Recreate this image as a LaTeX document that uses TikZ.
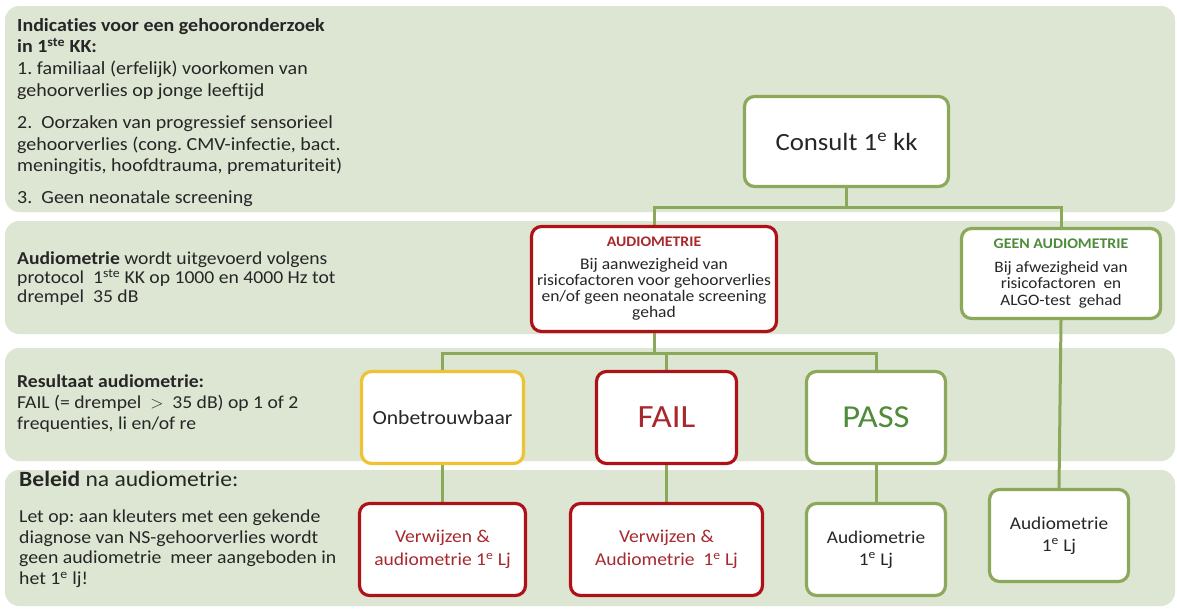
\documentclass[tikz,border=0pt]{standalone}
\usepackage{fontspec}
\setmainfont{Carlito}[FakeStretch=1.08, Ligatures=NoCommon]
\usetikzlibrary{calc}
\frenchspacing
\definecolor{band}{HTML}{DDE6D3}
\definecolor{gbord}{HTML}{8CA95B}
\definecolor{rbord}{HTML}{AE1218}
\definecolor{ybord}{HTML}{EEC232}
\definecolor{rtext}{HTML}{A8282D}
\definecolor{gtext}{HTML}{4E8B3A}
\definecolor{txt}{HTML}{262626}
\pgfdeclarelayer{back}
\pgfdeclarelayer{mid}
\pgfsetlayers{back,mid,main}
\begin{document}
\begin{tikzpicture}[x=1pt,y=-1pt,
  bandbox/.style={fill=band, rounded corners=14pt},
  box/.style={draw, fill=white, rounded corners=10pt, line width=3.2pt, align=center, inner sep=0pt, text=txt},
  gbox/.style={box, draw=gbord},
  rbox/.style={box, draw=rbord, text=rtext},
  ybox/.style={box, draw=ybord},
  conn/.style={draw=gbord, line width=3pt},
  lefttext/.style={anchor=north west, align=left, inner sep=0pt, text=txt}
]
\useasboundingbox (0,0) rectangle (1177,608);
\begin{pgfonlayer}{back}
\fill[white] (0,0) rectangle (1177,608);
\fill[bandbox] (5,6) rectangle (1175,212);
\fill[bandbox] (5,221) rectangle (1175,334);
\fill[bandbox] (5,348) rectangle (1175,461);
\fill[bandbox] (5,470) rectangle (1175,606);
\end{pgfonlayer}

% left texts
\node[lefttext, font=\fontsize{18.5}{21.8}\selectfont] (t1) at (17,18) {%
\textbf{Indicaties voor een gehooronderzoek}\\
\textbf{in 1\textsuperscript{ste} KK:}\\
1. familiaal (erfelijk) voorkomen van\\
gehoorverlies op jonge leeftijd\\[10pt]
2.\ \ Oorzaken van progressief sensorieel\\
gehoorverlies (cong. CMV-infectie, bact.\\
meningitis, hoofdtrauma, prematuriteit)\\[10pt]
3.\ \ Geen neonatale screening};

\node[lefttext, font=\fontsize{18.2}{19}\selectfont] (t2) at (17,252) {%
\textbf{Audiometrie} wordt uitgevoerd volgens\\
protocol\ \ 1\textsuperscript{ste} KK op 1000 en 4000\ Hz tot\\
drempel\ \ 35 dB};

\node[lefttext, font=\fontsize{18.2}{21}\selectfont] (t3) at (17,375) {%
\textbf{Resultaat audiometrie:}\\
FAIL (= drempel\ \ $>$\ \ 35 dB) op 1 of 2\\
frequenties, li en/of re};

\node[lefttext, font=\fontsize{21.8}{26}\selectfont] (t4) at (19,471) {%
\textbf{Beleid} na audiometrie:};

\node[lefttext, font=\fontsize{18.3}{20.5}\selectfont] (t5) at (19,510) {%
Let op: aan kleuters met een gekende\\
diagnose van NS-gehoorverlies wordt\\
geen audiometrie\ \ meer aangeboden in\\
het 1\textsuperscript{e} lj!};

% boxes
\node[gbox, minimum width=204pt, minimum height=90pt, font=\fontsize{24.8}{28}\selectfont] (consult) at (846.5,141.5) {Consult 1\textsuperscript{e} kk};

\node[rbox, minimum width=245pt, minimum height=105pt, text=txt, font=\fontsize{16.2}{16}\selectfont] (audio) at (654,279) {{\fontsize{14.6}{16}\selectfont\textcolor{rtext}{\textbf{AUDIOMETRIE}}}\\[7pt]
Bij aanwezigheid van\\
risicofactoren voor gehoorverlies\\
en/of geen\ neonatale screening\\
gehad};

\node[gbox, minimum width=199pt, minimum height=90pt, font=\fontsize{15.9}{16.5}\selectfont] (geen) at (1061,273.5) {{\fontsize{14.7}{16}\selectfont\textcolor{gtext}{\textbf{GEEN AUDIOMETRIE}}}\\[7pt]
Bij afwezigheid van\\
risicofactoren\ \ en\\
ALGO-test\ \ gehad};

\node[ybox, minimum width=162pt, minimum height=92pt, font=\fontsize{20}{22}\selectfont] (onb) at (442.5,417.5) {Onbetrouwbaar};
\node[rbox, minimum width=140pt, minimum height=92pt, font=\fontsize{32.4}{36}\selectfont] (fail) at (666.5,417.5) {FAIL};
\node[gbox, minimum width=139pt, minimum height=92pt, text=gtext, font=\fontsize{32}{36}\selectfont] (pass) at (876,417.5) {PASS};

\node[rbox, minimum width=166pt, minimum height=92pt, font=\fontsize{18.1}{23}\selectfont] (verw1) at (442.5,549.5) {Verwijzen \&\\audiometrie 1\textsuperscript{e} Lj};
\node[rbox, minimum width=192pt, minimum height=92pt, font=\fontsize{18.1}{23}\selectfont] (verw2) at (666.5,549.5) {Verwijzen \&\\Audiometrie\ \ 1\textsuperscript{e} Lj};
\node[gbox, minimum width=139pt, minimum height=92pt, font=\fontsize{17.9}{22}\selectfont] (aud1) at (876,549.5) {Audiometrie\\1\textsuperscript{e} Lj};
\node[gbox, minimum width=139pt, minimum height=92pt, font=\fontsize{17.9}{22}\selectfont] (aud2) at (1059,535.5) {Audiometrie\\1\textsuperscript{e} Lj};

% connectors
\coordinate (bus1) at (846.5,207);
\coordinate (bus2) at (654,353);
\begin{pgfonlayer}{mid}
\draw[conn] (consult.south) -- (bus1);
\draw[conn] (audio.north) |- (bus1) -| (geen.north);
\draw[conn] (audio.south) -- (bus2);
\draw[conn] (onb.north) |- (bus2) -| (pass.north);
\draw[conn] (fail.north) -- (fail.north |- bus2);
\draw[conn] (onb.south) -- (verw1.north);
\draw[conn] (fail.south) -- (verw2.north);
\draw[conn] (pass.south) -- (aud1.north);
\draw[conn] (geen.south) -- (aud2.north);
\end{pgfonlayer}
\end{tikzpicture}
\end{document}
